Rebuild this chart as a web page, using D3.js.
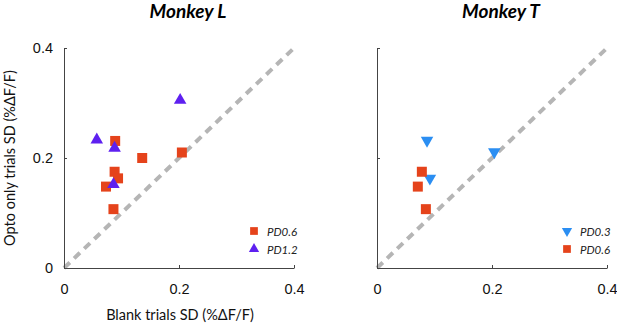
<!DOCTYPE html>
<html>
<head>
<meta charset="utf-8">
<script src="https://d3js.org/d3.v7.min.js"></script>
<style>
  body { margin: 0; background: #fff; }
  svg { display: block; font-family: Lato, "Open Sans", sans-serif; }
  .tick line, .domain { stroke: #444; }
  .tick text { font-size: 14.5px; fill: #111; }
</style>
</head>
<body>
<script>
// values
const ticks = [0, 0.2, 0.4]

const monkeyL_PD06_x = [0.089, 0.136, 0.205, 0.088, 0.094, 0.073, 0.086]
const monkeyL_PD06_y = [0.231, 0.200, 0.210, 0.175, 0.163, 0.148, 0.107]
const monkeyL_PD12_x = [0.202, 0.057, 0.088, 0.086]
const monkeyL_PD12_y = [0.305, 0.233, 0.218, 0.152]

const monkeyT_PD03_x = [0.087, 0.204, 0.092]
const monkeyT_PD03_y = [0.232, 0.211, 0.163]
const monkeyT_PD06_x = [0.078, 0.071, 0.085]
const monkeyT_PD06_y = [0.175, 0.148, 0.107]

const orange = "#e5431b", purple = "#5e20f0", blue = "#2b8ef2"

const pts = (xs, ys) => xs.map((x, i) => [x, ys[i]])

const panels = [
  {title: "Monkey L", left: 64, yLabels: true,
   series: [
     {name: "PD0.6", shape: "square", color: orange, data: pts(monkeyL_PD06_x, monkeyL_PD06_y)},
     {name: "PD1.2", shape: "up", color: purple, data: pts(monkeyL_PD12_x, monkeyL_PD12_y)}
   ]},
  {title: "Monkey T", left: 377, yLabels: false,
   series: [
     {name: "PD0.3", shape: "down", color: blue, data: pts(monkeyT_PD03_x, monkeyT_PD03_y)},
     {name: "PD0.6", shape: "square", color: orange, data: pts(monkeyT_PD06_x, monkeyT_PD06_y)}
   ]}
]

const W = 617, H = 325, plotW = 230, plotTop = 48, plotBottom = 268

const svg = d3.select("body").append("svg")
    .attr("width", W)
    .attr("height", H)

const marker = (shape, big) => {
    if (shape === "square") return d3.symbol(d3.symbolSquare, big ? 100 : 60)()
    return d3.symbol(d3.symbolTriangle, big ? 68 : 46)()
}

panels.forEach(p => {
    const x = d3.scaleLinear().domain([0, 0.4]).range([p.left, p.left + plotW])
    const y = d3.scaleLinear().domain([0, 0.4]).range([plotBottom, plotTop])

    const g = svg.append("g")

    g.append("text")
        .attr("x", p.left + plotW / 2 + 9)
        .attr("y", 18)
        .attr("text-anchor", "middle")
        .style("font-size", "19px")
        .style("font-weight", "bold")
        .style("font-style", "italic")
        .text(p.title)

    // identity line
    g.append("line")
        .attr("x1", x(0)).attr("y1", y(0))
        .attr("x2", x(0.4)).attr("y2", y(0.4))
        .attr("stroke", "#b5b5b5")
        .attr("stroke-width", 4)
        .attr("stroke-dasharray", "8,6")

    g.append("g")
        .attr("transform", `translate(0,${plotBottom})`)
        .call(d3.axisBottom(x).tickValues(ticks).tickSizeInner(-3).tickSizeOuter(0)
            .tickPadding(16).tickFormat(d => d === 0 ? "0" : d3.format(".1f")(d)))

    g.append("g")
        .attr("transform", `translate(${p.left},0)`)
        .call(d3.axisLeft(y).tickValues(ticks).tickSizeInner(-3).tickSizeOuter(0)
            .tickPadding(11).tickFormat(d => !p.yLabels ? "" : d === 0 ? "0" : d3.format(".1f")(d)))

    p.series.forEach(s => {
        g.append("g").selectAll("path")
            .data(s.data)
            .join("path")
            .attr("d", marker(s.shape, true))
            .attr("transform", d => `translate(${x(d[0])},${y(d[1])})` + (s.shape === "down" ? " rotate(180)" : ""))
            .attr("fill", s.color)
    })

    // legend
    const leg = g.append("g").selectAll("g")
        .data(p.series)
        .join("g")
        .attr("transform", (d, i) => `translate(${p.left + 190},${231 + i * 18})`)

    leg.append("path")
        .attr("d", d => marker(d.shape, false))
        .attr("transform", d => d.shape === "down" ? "rotate(180)" : null)
        .attr("fill", d => d.color)

    leg.append("text")
        .attr("x", 13)
        .attr("y", 4.5)
        .style("font-size", "11.5px")
        .style("font-style", "italic")
        .attr("fill", "#222")
        .text(d => d.name)
})

svg.append("text")
    .attr("x", 180)
    .attr("y", 320)
    .attr("text-anchor", "middle")
    .style("font-size", "14.5px")
    .attr("fill", "#111")
    .text("Blank trials SD (%ΔF/F)")

svg.append("text")
    .attr("transform", "translate(15,158) rotate(-90)")
    .attr("text-anchor", "middle")
    .style("font-size", "14.5px")
    .attr("fill", "#111")
    .text("Opto only trials SD (%ΔF/F)")
</script>
</body>
</html>
